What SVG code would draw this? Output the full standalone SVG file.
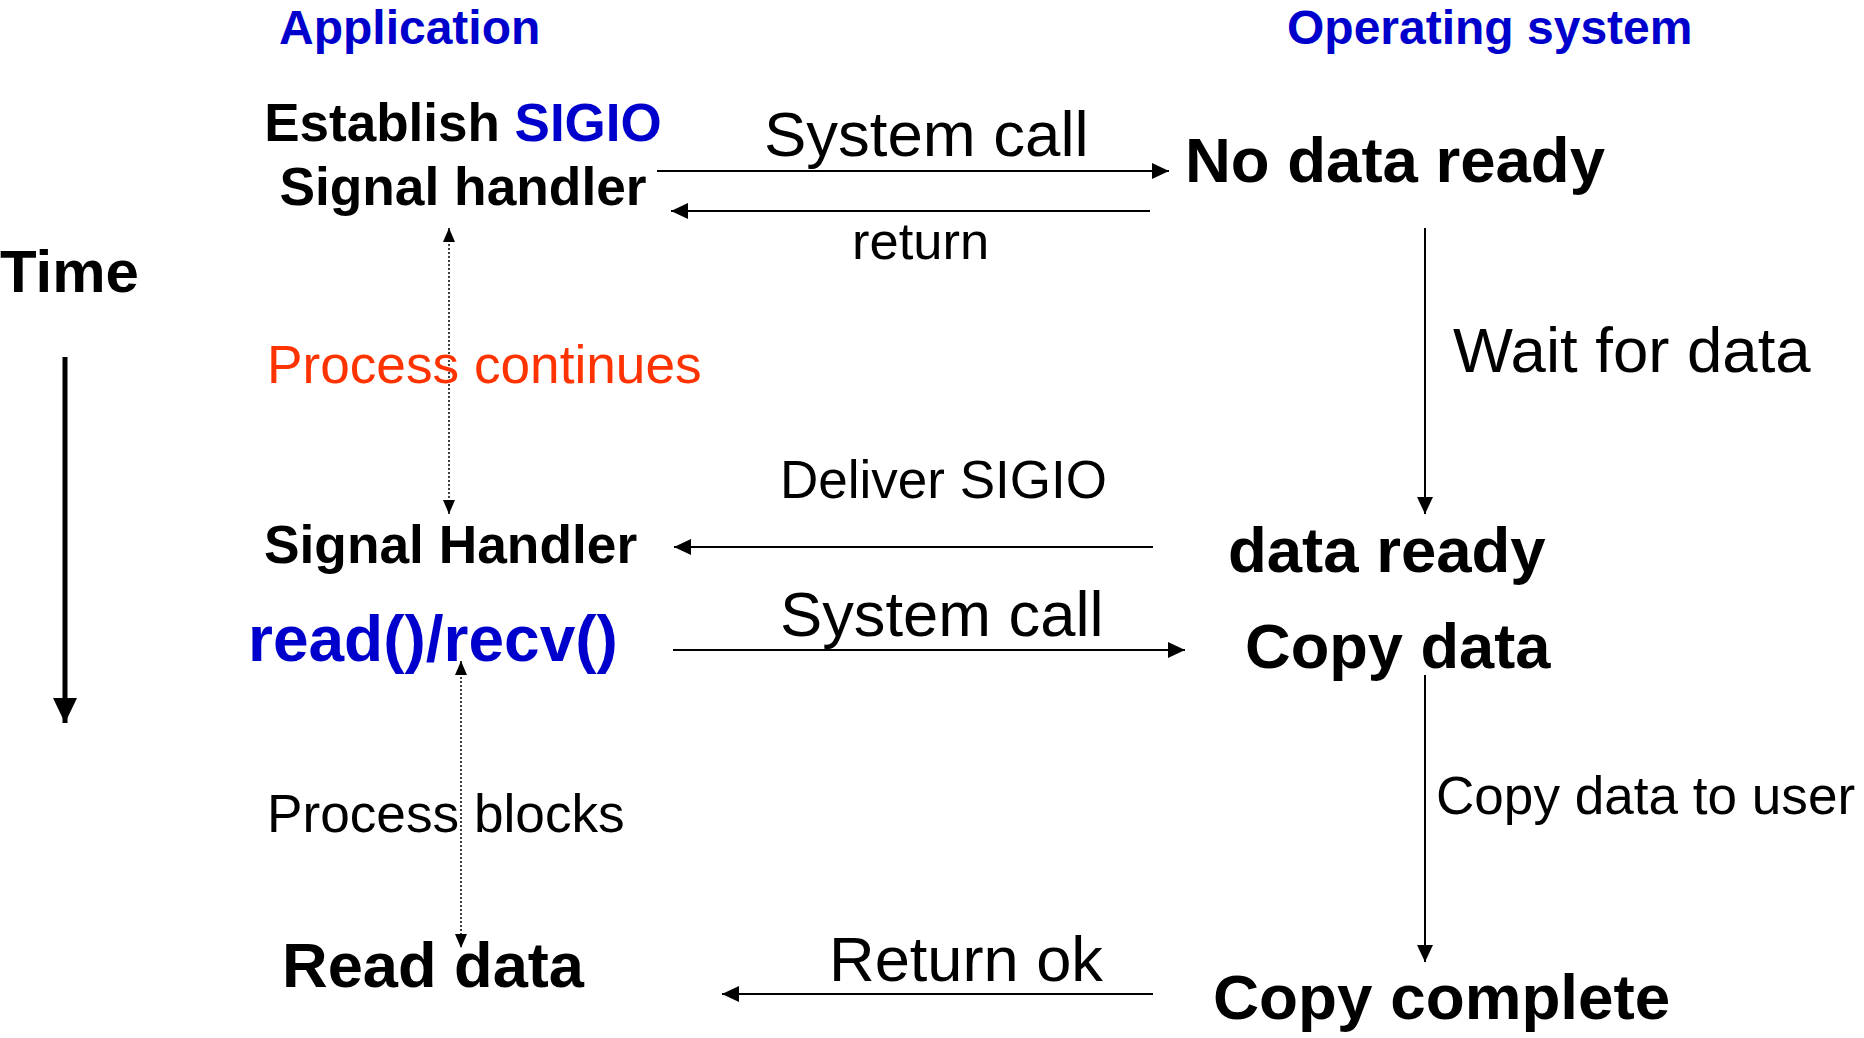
<svg xmlns="http://www.w3.org/2000/svg" width="1864" height="1038" viewBox="0 0 1864 1038">
<style>
text{font-family:"Liberation Sans",Arial,sans-serif;fill:#000}
.b{font-weight:bold}
.blue{fill:#0000CC}
.red{fill:#FF3300}
.ln{stroke:#000;stroke-width:2;fill:none}
.dot{stroke:#000;stroke-width:1.5;stroke-dasharray:2,2;fill:none}
</style>
<defs>
<marker id="ah" markerUnits="userSpaceOnUse" markerWidth="18" markerHeight="16" refX="17" refY="8" orient="auto"><path d="M0,0 L17,8 L0,16 z" fill="#000"/></marker>
<marker id="ahs" markerUnits="userSpaceOnUse" markerWidth="15" markerHeight="12" refX="14" refY="6" orient="auto"><path d="M0,0 L14,6 L0,12 z" fill="#000"/></marker>
<marker id="ahs0" markerUnits="userSpaceOnUse" markerWidth="15" markerHeight="12" refX="0" refY="6" orient="auto"><path d="M14,0 L0,6 L14,12 z" fill="#000"/></marker>
<marker id="ahb" markerUnits="userSpaceOnUse" markerWidth="26" markerHeight="24" refX="25" refY="12" orient="auto"><path d="M0,0 L25,12 L0,24 z" fill="#000"/></marker>
</defs>

<g id="headers">
<text class="b blue" x="279" y="44" font-size="48">Application</text>
<text class="b blue" x="1287" y="44" font-size="48">Operating system</text>
</g>

<g id="time">
<text class="b" x="0" y="292" font-size="60">Time</text>
<line x1="65" y1="357" x2="65" y2="723" stroke="#000" stroke-width="5" marker-end="url(#ahb)"/>
</g>

<g id="n-establish">
<text class="b" x="463" y="141" font-size="53" text-anchor="middle">Establish <tspan class="blue">SIGIO</tspan></text>
<text class="b" x="463" y="205" font-size="53.3" text-anchor="middle">Signal handler</text>
</g>
<g id="n-nodata"><text class="b" x="1185" y="182" font-size="63.5">No data ready</text></g>
<g id="n-sighandler"><text class="b" x="264" y="563" font-size="53.3">Signal Handler</text></g>
<g id="n-dataready"><text class="b" x="1228" y="572" font-size="63.5">data ready</text></g>
<g id="n-read"><text class="b blue" x="248" y="661" font-size="64">read()/recv()</text></g>
<g id="n-copydata"><text class="b" x="1245" y="668" font-size="63.2">Copy data</text></g>
<g id="n-readdata"><text class="b" x="282" y="987" font-size="63.2">Read data</text></g>
<g id="n-copycomplete"><text class="b" x="1213" y="1019" font-size="63.8">Copy complete</text></g>

<g id="connectors">
<line class="ln" x1="657" y1="171" x2="1169" y2="171" marker-end="url(#ah)"/>
<line class="ln" x1="1150" y1="211" x2="671" y2="211" marker-end="url(#ah)"/>
<line class="ln" x1="1425" y1="228" x2="1425" y2="514" marker-end="url(#ah)"/>
<line class="dot" x1="449" y1="228" x2="449" y2="514" marker-start="url(#ahs0)" marker-end="url(#ahs)"/>
<line class="ln" x1="1153" y1="547" x2="674" y2="547" marker-end="url(#ah)"/>
<line class="ln" x1="673" y1="650" x2="1185" y2="650" marker-end="url(#ah)"/>
<line class="ln" x1="1425" y1="675" x2="1425" y2="962" marker-end="url(#ah)"/>
<line class="dot" x1="461" y1="661" x2="461" y2="948" marker-start="url(#ahs0)" marker-end="url(#ahs)"/>
<line class="ln" x1="1153" y1="994" x2="722" y2="994" marker-end="url(#ah)"/>
</g>

<g id="labels">
<text x="764" y="156" font-size="63.5">System call</text>
<text x="852" y="259" font-size="52.5">return</text>
<text x="1453" y="372" font-size="63.5">Wait for data</text>
<text class="red" x="267" y="383" font-size="53.2">Process continues</text>
<text x="780" y="498" font-size="53">Deliver SIGIO</text>
<text x="780" y="636" font-size="63.3">System call</text>
<text x="1436" y="814" font-size="53.1">Copy data to user</text>
<text x="267" y="832" font-size="53.2">Process blocks</text>
<text x="829" y="981" font-size="63.2">Return ok</text>
</g>
</svg>
